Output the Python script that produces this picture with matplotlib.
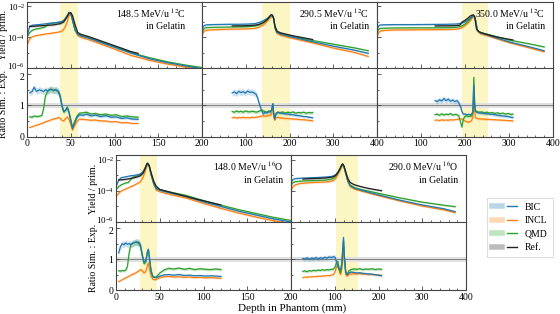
import matplotlib
matplotlib.use("Agg")
import matplotlib.pyplot as plt
from matplotlib.lines import Line2D
from matplotlib.legend_handler import HandlerTuple
from matplotlib.ticker import FixedLocator, NullFormatter, AutoMinorLocator
from matplotlib.transforms import ScaledTranslation
import numpy as np

plt.rcParams['font.family'] = ['Liberation Serif', 'DejaVu Serif']
plt.rcParams['mathtext.fontset'] = 'stix'

# ---- panel 1: 148.5 MeV/u 12C (log10 yields) ----
p1_depth = [1, 3, 6, 10, 15, 20, 25, 30, 35, 40, 43, 46, 48, 50, 52, 55, 58, 62, 70, 80, 100, 120, 140, 160, 180, 200]
p1_bic = [-3.75, -3.3, -3.22, -3.2, -3.17, -3.14, -3.1, -3.07, -3.04, -2.98, -2.85, -2.6, -2.38, -2.45, -2.9, -3.55, -3.8, -3.92, -4.05, -4.25, -4.65, -5.05, -5.4, -5.65, -5.85, -6.05]
p1_qmd = [-3.9, -3.7, -3.55, -3.47, -3.42, -3.35, -3.12, -3.08, -3.04, -3.0, -2.85, -2.6, -2.4, -2.45, -2.9, -3.55, -3.8, -3.9, -4.02, -4.22, -4.62, -5.02, -5.33, -5.59, -5.8, -5.97]
p1_incl = [-4.4, -4.1, -3.97, -3.9, -3.85, -3.8, -3.76, -3.72, -3.68, -3.6, -3.4, -3.0, -2.6, -2.5, -2.85, -3.55, -3.9, -4.02, -4.15, -4.35, -4.77, -5.2, -5.5, -5.74, -5.93, -6.1]
p1_ref_depth = [3, 10, 20, 30, 38, 42, 45, 48, 50, 52, 55, 58, 62, 70, 80, 90, 100, 110, 118, 127]
p1_ref = [-3.3, -3.28, -3.24, -3.2, -3.12, -3.0, -2.75, -2.45, -2.4, -2.6, -3.2, -3.7, -3.82, -3.95, -4.15, -4.35, -4.55, -4.75, -4.92, -5.05]
r1_depth = [3, 6, 8, 11, 14, 17, 19, 21, 24, 27, 30, 33, 36, 38, 40, 42, 44, 46, 48, 50, 52, 54, 57, 60, 64, 68, 73, 78, 84, 90, 96, 102, 108, 114, 120, 127]
r1_bic = [1.40, 1.45, 1.58, 1.45, 1.50, 1.47, 1.44, 1.50, 1.46, 1.52, 1.49, 1.50, 1.45, 1.30, 1.00, 0.80, 0.85, 0.92, 0.75, 0.50, 0.25, 0.40, 0.60, 0.70, 0.68, 0.72, 0.66, 0.69, 0.64, 0.67, 0.62, 0.63, 0.58, 0.60, 0.56, 0.55]
r1_qmd = [0.63, 0.62, 0.66, 0.64, 0.65, 0.68, 0.90, 1.30, 1.48, 1.52, 1.47, 1.50, 1.42, 1.25, 0.95, 0.78, 0.85, 0.95, 0.80, 0.55, 0.30, 0.45, 0.65, 0.75, 0.76, 0.78, 0.72, 0.74, 0.70, 0.72, 0.68, 0.70, 0.64, 0.66, 0.63, 0.62]
r1_incl = [0.29, 0.31, 0.34, 0.36, 0.39, 0.42, 0.44, 0.47, 0.50, 0.53, 0.56, 0.58, 0.61, 0.58, 0.52, 0.50, 0.58, 0.63, 0.55, 0.38, 0.20, 0.32, 0.48, 0.56, 0.55, 0.54, 0.52, 0.53, 0.50, 0.50, 0.47, 0.48, 0.44, 0.45, 0.42, 0.42]

# ---- panel 2: 290.5 MeV/u 12C ----
p2_depth = [0, 2, 5, 10, 20, 40, 60, 80, 100, 120, 130, 140, 148, 154, 158, 161, 164, 167, 171, 180, 200, 250, 300, 350, 380]
p2_bic = [-3.7, -3.35, -3.24, -3.2, -3.18, -3.17, -3.16, -3.16, -3.15, -3.12, -3.05, -2.93, -2.8, -2.68, -2.6, -2.58, -2.8, -3.4, -3.68, -3.8, -3.95, -4.28, -4.58, -4.85, -5.05]
p2_qmd = [-3.85, -3.55, -3.42, -3.38, -3.36, -3.35, -3.34, -3.33, -3.32, -3.28, -3.2, -3.05, -2.9, -2.72, -2.62, -2.6, -2.8, -3.4, -3.68, -3.78, -3.9, -4.2, -4.45, -4.7, -4.88]
p2_incl = [-4.05, -3.75, -3.6, -3.55, -3.52, -3.5, -3.48, -3.47, -3.46, -3.43, -3.35, -3.2, -3.0, -2.8, -2.67, -2.65, -2.8, -3.45, -3.75, -3.88, -4.03, -4.35, -4.7, -5.0, -5.25]
p2_ref_depth = [69, 80, 90, 100, 110, 120, 130, 140, 148, 153, 157, 160, 163, 167, 172, 180, 195, 210, 225, 240, 253]
p2_ref = [-3.27, -3.26, -3.26, -3.25, -3.24, -3.22, -3.17, -3.05, -2.88, -2.7, -2.55, -2.54, -2.7, -3.3, -3.62, -3.72, -3.82, -3.92, -4.0, -4.08, -4.15]
r2_depth = [69, 74, 79, 84, 89, 94, 99, 104, 109, 114, 119, 124, 128, 132, 136, 140, 144, 148, 152, 156, 159, 162, 164, 166, 169, 173, 178, 184, 190, 196, 202, 208, 214, 220, 226, 232, 238, 244, 250, 253]
r2_bic = [1.40, 1.43, 1.38, 1.45, 1.41, 1.44, 1.39, 1.46, 1.42, 1.43, 1.40, 1.35, 1.20, 1.00, 0.85, 0.72, 0.78, 0.75, 0.80, 0.78, 0.85, 1.05, 0.70, 0.56, 0.72, 0.78, 0.76, 0.74, 0.73, 0.72, 0.70, 0.70, 0.68, 0.67, 0.66, 0.64, 0.64, 0.62, 0.61, 0.60]
r2_qmd = [0.80, 0.78, 0.82, 0.79, 0.81, 0.78, 0.82, 0.80, 0.79, 0.81, 0.80, 0.78, 0.80, 0.82, 0.85, 0.82, 0.80, 0.78, 0.82, 0.80, 0.85, 1.05, 0.75, 0.60, 0.74, 0.78, 0.76, 0.79, 0.75, 0.78, 0.76, 0.79, 0.75, 0.77, 0.76, 0.78, 0.75, 0.77, 0.76, 0.77]
r2_incl = [0.60, 0.62, 0.59, 0.61, 0.60, 0.62, 0.60, 0.61, 0.60, 0.62, 0.61, 0.62, 0.63, 0.64, 0.66, 0.67, 0.66, 0.65, 0.68, 0.68, 0.72, 0.95, 0.62, 0.52, 0.60, 0.62, 0.60, 0.59, 0.58, 0.58, 0.57, 0.56, 0.56, 0.55, 0.54, 0.54, 0.53, 0.52, 0.51, 0.50]

# ---- panel 3: 350.0 MeV/u 12C ----
p3_depth = [0, 2, 5, 10, 20, 40, 80, 120, 160, 180, 190, 200, 208, 214, 218, 221, 224, 228, 235, 250, 300, 350, 380]
p3_bic = [-3.7, -3.35, -3.23, -3.2, -3.19, -3.18, -3.18, -3.17, -3.16, -3.14, -3.1, -3.0, -2.85, -2.7, -2.6, -2.58, -2.9, -3.55, -3.72, -3.85, -4.3, -4.65, -4.88]
p3_qmd = [-3.85, -3.55, -3.45, -3.42, -3.41, -3.40, -3.39, -3.39, -3.38, -3.36, -3.3, -3.15, -2.95, -2.75, -2.62, -2.6, -2.9, -3.55, -3.7, -3.8, -4.18, -4.45, -4.63]
p3_incl = [-4.15, -3.8, -3.65, -3.58, -3.55, -3.53, -3.52, -3.51, -3.5, -3.48, -3.42, -3.25, -3.05, -2.85, -2.7, -2.65, -2.9, -3.6, -3.78, -3.9, -4.35, -4.72, -4.95]
p3_ref_depth = [132, 145, 160, 175, 188, 191, 193, 200, 207, 212, 216, 219, 222, 226, 232, 245, 260, 275, 290, 309]
p3_ref = [-3.27, -3.26, -3.26, -3.25, -3.22, -3.1, -3.02, -2.9, -2.75, -2.62, -2.56, -2.55, -2.7, -3.45, -3.65, -3.78, -3.9, -4.0, -4.08, -4.18]
r3_depth = [132, 137, 142, 147, 152, 157, 162, 167, 172, 177, 182, 186, 190, 193, 196, 200, 204, 208, 212, 215, 218, 220, 222, 224, 227, 232, 238, 244, 250, 256, 262, 268, 274, 280, 286, 292, 298, 304, 309]
r3_bic = [1.15, 1.12, 1.18, 1.14, 1.22, 1.15, 1.20, 1.13, 1.17, 1.12, 1.15, 1.08, 0.95, 0.80, 0.72, 0.72, 0.70, 0.71, 0.70, 0.72, 0.80, 1.65, 1.00, 0.80, 0.78, 0.76, 0.75, 0.74, 0.73, 0.72, 0.71, 0.70, 0.68, 0.67, 0.66, 0.65, 0.64, 0.62, 0.61]
r3_qmd = [0.70, 0.72, 0.68, 0.73, 0.69, 0.72, 0.70, 0.74, 0.69, 0.71, 0.70, 0.66, 0.45, 0.30, 0.55, 0.65, 0.66, 0.64, 0.66, 0.65, 0.80, 1.90, 1.05, 0.82, 0.80, 0.78, 0.79, 0.76, 0.78, 0.75, 0.77, 0.74, 0.76, 0.73, 0.75, 0.72, 0.74, 0.71, 0.72]
r3_incl = [0.52, 0.53, 0.51, 0.54, 0.52, 0.53, 0.52, 0.54, 0.53, 0.54, 0.55, 0.56, 0.57, 0.56, 0.53, 0.50, 0.47, 0.46, 0.48, 0.52, 0.62, 1.35, 0.80, 0.60, 0.58, 0.57, 0.56, 0.56, 0.55, 0.55, 0.54, 0.54, 0.53, 0.53, 0.52, 0.52, 0.51, 0.51, 0.50]

# ---- panel 4: 148.0 MeV/u 16O ----
p4_depth = [1, 3, 6, 10, 14, 17, 20, 25, 28, 31, 33, 35, 36, 38, 40, 43, 46, 50, 60, 80, 100, 120, 140, 160, 180, 200]
p4_bic = [-3.6, -3.3, -3.14, -3.1, -3.05, -3.02, -3.0, -2.95, -2.9, -2.75, -2.55, -2.3, -2.2, -2.4, -2.9, -3.5, -3.85, -3.95, -4.1, -4.35, -4.7, -5.0, -5.3, -5.55, -5.8, -6.0]
p4_qmd = [-3.85, -3.72, -3.6, -3.5, -3.45, -3.25, -3.1, -3.0, -2.92, -2.75, -2.55, -2.3, -2.2, -2.4, -2.9, -3.5, -3.82, -3.92, -4.05, -4.28, -4.62, -4.92, -5.2, -5.45, -5.7, -5.9]
p4_incl = [-4.3, -4.15, -4.0, -3.9, -3.8, -3.72, -3.65, -3.5, -3.4, -3.1, -2.8, -2.45, -2.3, -2.45, -2.95, -3.55, -3.95, -4.05, -4.2, -4.45, -4.8, -5.12, -5.42, -5.68, -5.92, -6.1]
p4_ref_depth = [3, 8, 14, 20, 25, 28, 31, 33, 35, 36, 38, 40, 43, 46, 50, 60, 70, 80, 90, 100, 110, 120]
p4_ref = [-3.29, -3.27, -3.22, -3.15, -3.08, -3.01, -2.85, -2.6, -2.3, -2.22, -2.35, -2.8, -3.35, -3.7, -3.9, -4.05, -4.2, -4.35, -4.5, -4.63, -4.77, -4.9]
r4_depth = [3, 5, 7, 9, 11, 13, 15, 17, 20, 23, 26, 28, 30, 32, 34, 36, 37, 38, 40, 42, 44, 46, 50, 55, 60, 66, 72, 78, 84, 90, 96, 102, 108, 114, 120]
r4_bic = [1.20, 1.40, 1.50, 1.46, 1.52, 1.48, 1.50, 1.47, 1.52, 1.55, 1.55, 1.45, 1.15, 0.90, 0.95, 1.25, 1.31, 1.10, 0.65, 0.45, 0.42, 0.40, 0.45, 0.49, 0.50, 0.48, 0.50, 0.47, 0.48, 0.46, 0.47, 0.45, 0.46, 0.45, 0.44]
r4_qmd = [0.62, 0.61, 0.63, 0.62, 0.64, 0.75, 1.20, 1.48, 1.52, 1.55, 1.50, 1.40, 1.10, 0.85, 0.90, 1.25, 1.30, 1.05, 0.60, 0.42, 0.40, 0.42, 0.55, 0.65, 0.70, 0.68, 0.71, 0.67, 0.70, 0.66, 0.69, 0.67, 0.66, 0.68, 0.66]
r4_incl = [0.27, 0.30, 0.33, 0.36, 0.39, 0.42, 0.45, 0.48, 0.52, 0.56, 0.62, 0.66, 0.63, 0.55, 0.60, 0.80, 0.88, 0.70, 0.45, 0.35, 0.33, 0.34, 0.40, 0.43, 0.44, 0.42, 0.43, 0.41, 0.42, 0.40, 0.41, 0.39, 0.40, 0.39, 0.38]

# ---- panel 5: 290.0 MeV/u 16O ----
p5_depth = [0, 2, 5, 10, 20, 40, 60, 80, 95, 102, 108, 113, 116, 118, 121, 125, 130, 135, 145, 160, 200, 250, 300, 350, 375]
p5_bic = [-3.6, -3.35, -3.25, -3.2, -3.18, -3.15, -3.13, -3.1, -3.05, -2.95, -2.75, -2.5, -2.32, -2.26, -2.4, -2.85, -3.35, -3.65, -3.82, -3.95, -4.25, -4.6, -4.9, -5.15, -5.33]
p5_qmd = [-3.8, -3.55, -3.45, -3.4, -3.37, -3.34, -3.32, -3.3, -3.22, -3.05, -2.8, -2.55, -2.35, -2.28, -2.42, -2.85, -3.35, -3.62, -3.78, -3.9, -4.15, -4.45, -4.72, -4.92, -5.01]
p5_incl = [-4.2, -3.85, -3.7, -3.6, -3.52, -3.47, -3.44, -3.42, -3.35, -3.2, -2.9, -2.62, -2.42, -2.35, -2.48, -2.9, -3.42, -3.72, -3.88, -4.0, -4.3, -4.65, -4.97, -5.22, -5.4]
p5_ref_depth = [27, 40, 60, 80, 95, 102, 108, 113, 116, 118, 121, 125, 130, 135, 145, 160, 175, 190, 207]
p5_ref = [-3.23, -3.21, -3.19, -3.16, -3.1, -3.0, -2.78, -2.5, -2.32, -2.26, -2.38, -2.75, -3.2, -3.45, -3.6, -3.72, -3.82, -3.9, -3.98]
r5_depth = [27, 32, 37, 42, 47, 52, 57, 62, 67, 72, 77, 82, 87, 92, 97, 101, 104, 107, 110, 113, 116, 118, 120, 122, 125, 128, 132, 137, 143, 150, 157, 164, 171, 178, 185, 192, 199, 207]
r5_bic = [1.02, 1.00, 1.04, 0.99, 1.03, 1.01, 1.05, 1.00, 1.04, 1.02, 1.06, 1.03, 1.07, 1.05, 1.08, 1.05, 0.90, 0.75, 0.68, 0.66, 0.85, 1.30, 1.70, 1.10, 0.60, 0.49, 0.55, 0.58, 0.57, 0.55, 0.56, 0.54, 0.53, 0.52, 0.51, 0.50, 0.48, 0.46]
r5_qmd = [0.60, 0.62, 0.59, 0.63, 0.61, 0.64, 0.62, 0.65, 0.63, 0.66, 0.64, 0.66, 0.65, 0.67, 0.68, 0.75, 0.90, 0.93, 0.70, 0.55, 0.75, 1.20, 1.60, 1.05, 0.60, 0.50, 0.62, 0.66, 0.68, 0.67, 0.69, 0.66, 0.68, 0.67, 0.69, 0.66, 0.68, 0.67]
r5_incl = [0.40, 0.42, 0.41, 0.43, 0.42, 0.44, 0.43, 0.45, 0.44, 0.46, 0.45, 0.47, 0.46, 0.48, 0.50, 0.60, 0.75, 0.80, 0.62, 0.50, 0.68, 1.05, 1.40, 0.90, 0.50, 0.45, 0.50, 0.52, 0.53, 0.52, 0.53, 0.51, 0.52, 0.50, 0.51, 0.49, 0.49, 0.48]

titles = ["148.5 MeV/u $^{12}$C\nin Gelatin", "290.5 MeV/u $^{12}$C\nin Gelatin",
          "350.0 MeV/u $^{12}$C\nin Gelatin", "148.0 MeV/u $^{16}$O\nin Gelatin",
          "290.0 MeV/u $^{16}$O\nin Gelatin"]
xmax = [200, 400, 400, 200, 400]
peak_region = [(38, 58), (136, 200), (193, 252), (27, 47), (103, 153)]

C_BIC, C_INCL, C_QMD, C_REF = "#1f77b4", "#ff7f0e", "#2ca02c", "#222222"
SPAN = "#fbf6c3"
EDGE = "#444444"

panels = [
    (p1_depth, p1_bic, p1_incl, p1_qmd, p1_ref_depth, p1_ref, r1_depth, r1_bic, r1_incl, r1_qmd),
    (p2_depth, p2_bic, p2_incl, p2_qmd, p2_ref_depth, p2_ref, r2_depth, r2_bic, r2_incl, r2_qmd),
    (p3_depth, p3_bic, p3_incl, p3_qmd, p3_ref_depth, p3_ref, r3_depth, r3_bic, r3_incl, r3_qmd),
    (p4_depth, p4_bic, p4_incl, p4_qmd, p4_ref_depth, p4_ref, r4_depth, r4_bic, r4_incl, r4_qmd),
    (p5_depth, p5_bic, p5_incl, p5_qmd, p5_ref_depth, p5_ref, r5_depth, r5_bic, r5_incl, r5_qmd),
]

W, H = 560, 314
fig = plt.figure(figsize=(5.6, 3.14), dpi=100)

# pixel boxes: (left, right, top, divider, bottom)
boxes = [(27, 202, 1.5, 68, 136.5), (202, 377, 1.5, 68, 136.5), (377, 553, 1.5, 68, 136.5),
         (116, 291, 155, 222, 290), (291, 466, 155, 222, 290)]
text_x = [0.905, 0.955, 0.955, 0.955, 0.955]


def style(ax):
    for s in ax.spines.values():
        s.set_color(EDGE)
        s.set_linewidth(0.8)
    ax.tick_params(which="both", direction="in", color=EDGE, width=0.6, labelsize=7, pad=2)
    ax.tick_params(which="major", length=3)
    ax.tick_params(which="minor", length=1.5)


def curve(ax, x, y, c, log=False):
    x = np.asarray(x)
    y = np.asarray(y, dtype=float)
    if log:
        lo, mid, hi = 10 ** (y - 0.06), 10 ** y, 10 ** (y + 0.06)
    else:
        lo, mid, hi = y * 0.93, y, y * 1.07
    ax.fill_between(x, lo, hi, color=c, alpha=0.22, lw=0)
    ax.plot(x, mid, color=c, lw=0.9)


left_pairs = []
for i, (pan, box) in enumerate(zip(panels, boxes)):
    d, bic, incl, qmd, rd, ref, rr, rbic, rincl, rqmd = pan
    l, r, t, m, b = box
    ay = fig.add_axes([l / W, 1 - m / H, (r - l) / W, (m - t) / H])
    ar = fig.add_axes([l / W, 1 - b / H, (r - l) / W, (b - m) / H], sharex=ay)
    for ax in (ay, ar):
        style(ax)
        ax.axvspan(*peak_region[i], color=SPAN, lw=0, zorder=0)
    ay.spines["bottom"].set_visible(False)

    curve(ay, d, incl, C_INCL, log=True)
    curve(ay, d, qmd, C_QMD, log=True)
    curve(ay, d, bic, C_BIC, log=True)
    curve(ay, rd, ref, C_REF, log=True)
    ay.set_yscale("log")
    ay.set_ylim(1e-6, 10 ** -1.68)
    ay.yaxis.set_major_locator(FixedLocator([1e-6, 1e-4, 1e-2]))
    ay.yaxis.set_minor_locator(FixedLocator([1e-5, 1e-3]))
    ay.yaxis.set_minor_formatter(NullFormatter())
    ay.tick_params(axis="x", labelbottom=False)
    ay.tick_params(axis="y", labelsize=6.5, pad=1.5)

    ar.axhspan(0.92, 1.08, color="0.88", lw=0, zorder=0.5)
    ar.axhline(1.0, color="0.45", lw=0.6, zorder=0.6)
    curve(ar, rr, rincl, C_INCL)
    curve(ar, rr, rqmd, C_QMD)
    curve(ar, rr, rbic, C_BIC)
    ar.set_ylim(0, 2.2)
    ar.set_yticks([0, 1, 2])
    ar.yaxis.set_minor_locator(FixedLocator([0.5, 1.5]))

    ar.set_xlim(0, xmax[i])
    step = 50 if xmax[i] == 200 else 100
    ticks = list(range(0, xmax[i] + 1, step))
    ar.set_xticks(ticks)
    ar.xaxis.set_minor_locator(AutoMinorLocator(5))
    labels = [str(v) for v in ticks]
    if i in (1, 2, 4):
        labels[0] = ""
    ar.set_xticklabels(labels)

    if i not in (0, 3):
        ay.tick_params(axis="y", labelleft=False)
        ar.tick_params(axis="y", labelleft=False)
    else:
        left_pairs.append((ay, ar))

    ay.text(text_x[i], 0.93, titles[i], transform=ay.transAxes, ha="right", va="top",
            fontsize=7, linespacing=1.35)

# nudge the 10^-6 and 2 labels apart where the two panels meet
fig.canvas.draw()
up = ScaledTranslation(0, 1.5 / 72, fig.dpi_scale_trans)
down = ScaledTranslation(0, -1.5 / 72, fig.dpi_scale_trans)
for ay, ar in left_pairs:
    for tick in ay.yaxis.get_major_ticks():
        if np.isclose(tick.get_loc(), 1e-6):
            tick.label1.set_transform(tick.label1.get_transform() + up)
    for tick in ar.yaxis.get_major_ticks():
        if np.isclose(tick.get_loc(), 2):
            tick.label1.set_transform(tick.label1.get_transform() + down)

# axis labels
fig.text(4 / W, 1 - 35 / H, "Yield / prim.", rotation=90, ha="center", va="center", fontsize=7)
fig.text(4 / W, 1 - 104 / H, "Ratio Sim. : Exp.", rotation=90, ha="center", va="center", fontsize=7)
fig.text(93 / W, 1 - 189 / H, "Yield / prim.", rotation=90, ha="center", va="center", fontsize=7)
fig.text(93 / W, 1 - 258 / H, "Ratio Sim. : Exp.", rotation=90, ha="center", va="center", fontsize=7)
fig.text(292 / W, 1 - 308 / H, "Depth in Phantom (mm)", ha="center", va="center", fontsize=8)

handles = []
for c in (C_BIC, C_INCL, C_QMD, C_REF):
    handles.append((Line2D([], [], color=c, lw=4, alpha=0.3), Line2D([], [], color=c, lw=1)))
leg = fig.legend(handles, ["BIC", "INCL", "QMD", "Ref."], loc="upper left",
                 bbox_to_anchor=(487 / W, 1 - 198 / H), borderaxespad=0, fontsize=7,
                 handler_map={tuple: HandlerTuple(ndivide=None)}, frameon=True,
                 fancybox=False, edgecolor="0.8", handlelength=2.6, labelspacing=0.45,
                 borderpad=0.5, handletextpad=0.8)
leg.get_frame().set_linewidth(0.6)

fig.savefig("out.png", dpi=100)
